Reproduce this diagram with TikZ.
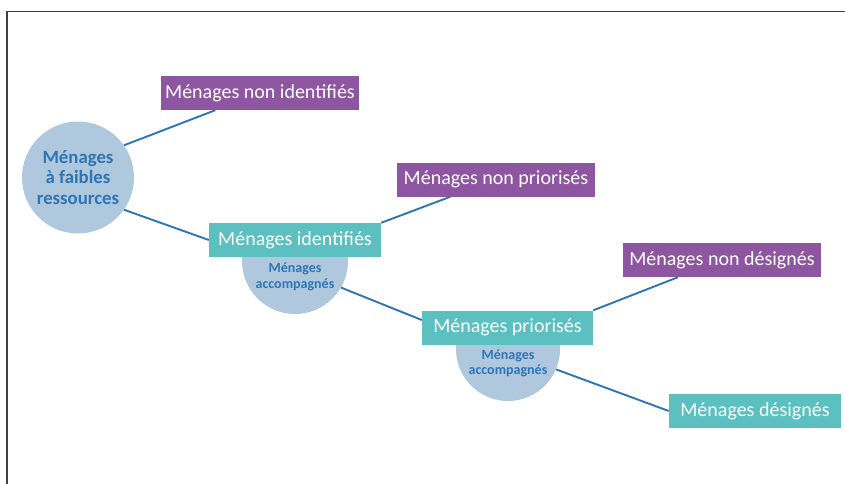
\documentclass[tikz,border=0pt]{standalone}
\usepackage{fontspec}
\setmainfont{Carlito}
\definecolor{mpurple}{HTML}{8E56A0}
\definecolor{mteal}{HTML}{5BC0BF}
\definecolor{mcirc}{HTML}{AFC8DD}
\definecolor{mblue}{HTML}{2E75B6}

\begin{document}
\begin{tikzpicture}[x=1pt,y=-1pt,
  box/.style={fill=#1,text=white,minimum height=34pt,inner sep=0pt,
    font=\fontsize{20}{24}\selectfont},
  bigcirc/.style={circle,fill=mcirc,text=mblue,align=center,inner sep=0pt,
    font=\bfseries\fontsize{18.8}{20.5}\selectfont},
  acc/.style={circle,fill=mcirc,inner sep=0pt},
  acctext/.style={text=mblue,align=center,font=\bfseries\fontsize{14}{15.5}\selectfont},
  link/.style={mblue,line width=1.9pt}]
\useasboundingbox (0,0) rectangle (845,484);
\draw[black!75,line width=1.6pt] (7,484) -- (7,11.5) -- (845,11.5);

\node[bigcirc,minimum size=112pt] (poor) at (78,177.5) {Ménages\\à faibles\\ressources};
\node[box=mpurple,minimum width=198pt] (nonid) at (260,93) {Ménages non identifiés};

\begin{scope}
\clip (230,223) rectangle (360,320);
\node[acc,minimum size=106pt] (acc1) at (295,261) {};
\end{scope}
\node[acctext] (acc1txt) at (295,277) {Ménages\\accompagnés};
\node[box=mteal,minimum width=172pt] (ident) at (295,240) {Ménages identifiés};
\node[box=mpurple,minimum width=198pt] (nonprio) at (496,179.5) {Ménages non priorisés};

\begin{scope}
\clip (440,311) rectangle (570,410);
\node[acc,minimum size=104pt] (acc2) at (508,349) {};
\end{scope}
\node[acctext] (acc2txt) at (508,363.5) {Ménages\\accompagnés};
\node[box=mteal,minimum width=171pt] (prio) at (507.5,327.5) {Ménages priorisés};
\node[box=mpurple,minimum width=198pt] (nondes) at (722,260) {Ménages non désignés};
\node[box=mteal,minimum width=172pt] (des) at (755,411) {Ménages désignés};

\draw[link] (poor.35) -- (nonid);
\draw[link] (poor.-35) -- (ident.west);
\draw[link] (ident.north east) -- (nonprio);
\draw[link] (acc1.-30) -- (prio.175);
\draw[link] (prio.north east) -- (nondes);
\draw[link] (acc2.-23) -- (des.west);
\end{tikzpicture}
\end{document}
